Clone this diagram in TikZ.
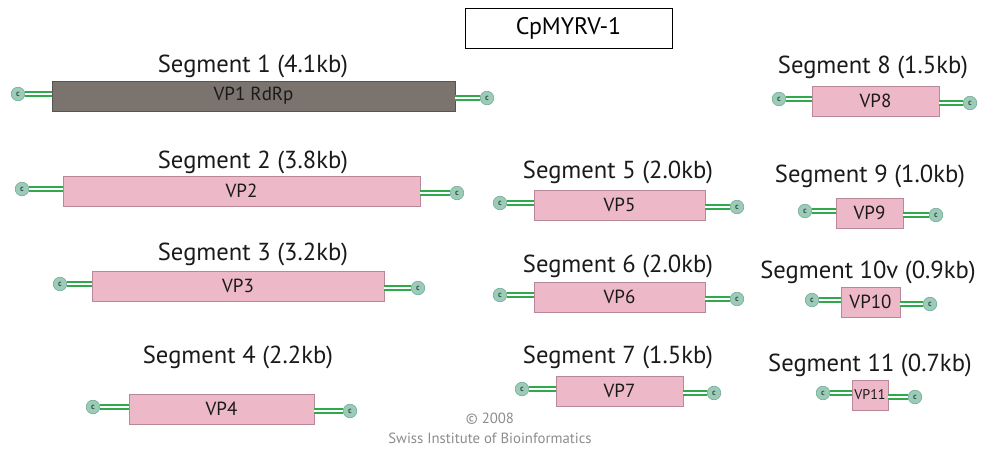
\documentclass[tikz,border=0pt]{standalone}
\usepackage{fontspec}
\setmainfont{PT Sans}
\usepackage{tikz}
\usetikzlibrary{positioning,calc}
\definecolor{vpfill}{HTML}{EDB8C8}
\definecolor{vpdraw}{HTML}{B88898}
\definecolor{rdrpfill}{HTML}{7B736D}
\definecolor{rdrpdraw}{HTML}{5A544F}
\definecolor{capgreen}{HTML}{2FA94B}
\definecolor{capfill}{HTML}{9CCBB8}
\definecolor{capdraw}{HTML}{6FA894}
\definecolor{darktext}{HTML}{1A1A1A}

\begin{document}
\begin{tikzpicture}[x=0.025cm,y=-0.025cm,
      vpbox/.style={draw=vpdraw,fill=vpfill,minimum height=0.75cm,inner sep=0pt,font=\fontsize{13.5}{15}\selectfont,text=darktext},
      seglabel/.style={font=\fontsize{17.5}{20}\selectfont,text=darktext,inner sep=0pt},
      capnode/.style={circle,draw=capdraw,fill=capfill,minimum size=0.34cm,inner sep=0pt,font=\fontsize{6}{6}\selectfont\bfseries,text=capdraw!50!black},
      capline/.style={draw=capgreen,double=white,double distance=2pt,line width=0.9pt}]
    \useasboundingbox (0,0) rectangle (984,450);
    % title
    \node[draw,minimum width=5.18cm,minimum height=1cm,font=\fontsize{17}{20}\selectfont] (title) at (568.5,28) {CpMYRV-1};
    % segments 1-4
    \node[seglabel] (l1) at (253,66) {Segment 1 (4.1kb)};
    \node[vpbox,draw=rdrpdraw,fill=rdrpfill,minimum width=10.08cm] (b1) at (253.5,96) {VP1 RdRp};
    \node[seglabel] (l2) at (253,162) {Segment 2 (3.8kb)};
    \node[vpbox,minimum width=8.93cm] (b2) at (241.5,191) {VP2};
    \node[seglabel] (l3) at (253,254) {Segment 3 (3.2kb)};
    \node[vpbox,minimum width=7.3cm] (b3) at (238,286) {VP3};
    \node[seglabel] (l4) at (238,357) {Segment 4 (2.2kb)};
    \node[vpbox,minimum width=4.63cm] (b4) at (221.5,409) {VP4};
    % segments 5-7
    \node[seglabel] (l5) at (618,172) {Segment 5 (2.0kb)};
    \node[vpbox,minimum width=4.28cm] (b5) at (619.5,205) {VP5};
    \node[seglabel] (l6) at (618,266) {Segment 6 (2.0kb)};
    \node[vpbox,minimum width=4.28cm] (b6) at (619.5,297) {VP6};
    \node[seglabel] (l7) at (618,357) {Segment 7 (1.5kb)};
    \node[vpbox,minimum width=3.18cm] (b7) at (619.5,391) {VP7};
    % segments 8-11
    \node[seglabel] (l8) at (873,67) {Segment 8 (1.5kb)};
    \node[vpbox,minimum width=3.18cm] (b8) at (875.5,101) {VP8};
    \node[seglabel] (l9) at (870,176) {Segment 9 (1.0kb)};
    \node[vpbox,minimum width=1.68cm] (b9) at (869.5,213) {VP9};
    \node[seglabel] (l10) at (868,272) {Segment 10v (0.9kb)};
    \node[vpbox,minimum width=1.48cm] (b10) at (870.5,302) {VP10};
    \node[seglabel] (l11) at (870,365) {Segment 11 (0.7kb)};
    \node[vpbox,minimum width=0.9cm,font=\fontsize{10}{12}\selectfont] (b11) at (870,395) {VP11};
    % caps
    \foreach \n/\xl/\xr in {1/18/487,2/22/457,3/60/418,4/93/350,5/500/737,6/500/737,
                            7/522/714,8/779/970,9/805/936,10/812/930,11/823/915}{
      \node[capnode] (cl\n) at ($(\xl,0)+(0,0|-b\n.center)+(0,-2)$) {c};
      \node[capnode] (cr\n) at ($(\xr,0)+(0,0|-b\n.center)+(0,2)$) {c};
      \draw[capline] (cl\n.east) -- (b\n.west |- cl\n);
      \draw[capline] (b\n.east |- cr\n) -- (cr\n.west);
    }
    % copyright
    \node[font=\fontsize{10.5}{12}\selectfont,text=black!45] (copy) at (490,419) {\textcopyright\ 2008};
    \node[font=\fontsize{10.5}{12}\selectfont,text=black!45] (sib) at (490,438) {Swiss Institute of Bioinformatics};
  \end{tikzpicture}
\end{document}
